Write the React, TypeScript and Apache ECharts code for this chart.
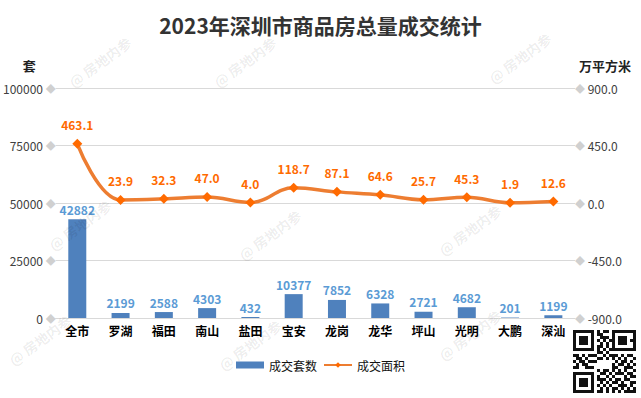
import React, { useEffect, useRef } from "react";
import * as echarts from "echarts";

const categories = ["全市", "罗湖", "福田", "南山", "盐田", "宝安", "龙岗", "龙华", "坪山", "光明", "大鹏", "深汕"];
const dealUnits = [42882, 2199, 2588, 4303, 432, 10377, 7852, 6328, 2721, 4682, 201, 1199];
const dealArea = [463.1, 23.9, 32.3, 47.0, 4.0, 118.7, 87.1, 64.6, 25.7, 45.3, 1.9, 12.6];
const watermarks = [
  [100, 62], [245, 62], [520, 58], [80, 225], [270, 235], [470, 230], [40, 340], [250, 345], [470, 335],
];

const FONT = "'Noto Sans CJK SC', 'Noto Sans', sans-serif";

export default function App() {
  const ref = useRef<HTMLDivElement>(null);
  useEffect(() => {
    if (!ref.current) return;
    const chart = echarts.init(ref.current, undefined, { renderer: "svg" });
    const qr: any[] = [];
    // simple QR-like decoration
    const qx = 573, qy = 330, cell = 3;
    const pattern = [
      "111111101011011111111",
      "100000101100010000001",
      "101110100111010111001",
      "101110101010110111011",
      "101110100101010111001",
      "100000101101010000001",
      "111111101010111111111",
      "000000001101000000000",
      "110101110010111010110",
      "011010001101010101001",
      "101101110000001011010",
      "010110000000010110101",
      "110011100000011001110",
      "000000001011010101001",
      "111111100110101110110",
      "100000101001010001011",
      "101110101110101101100",
      "101110100101011010011",
      "101110101010100111010",
      "100000100101011010101",
      "111111101101010101111",
    ];
    pattern.forEach((row, r) => {
      row.split("").forEach((c, k) => {
        if (c === "1")
          qr.push({ type: "rect", shape: { x: qx + k * cell, y: qy + r * cell, width: cell, height: cell }, style: { fill: "#111" }, silent: true });
      });
    });
    chart.setOption({
      animation: false,
      textStyle: { fontFamily: FONT },
      title: {
        text: "2023年深圳市商品房总量成交统计",
        left: "center",
        top: 9,
        textStyle: { fontSize: 21, fontWeight: "bold", color: "#333", fontFamily: FONT },
      },
      grid: { left: 54, right: 66, top: 88, bottom: 80 },
      legend: {
        bottom: 22,
        left: "center",
        itemWidth: 28,
        itemHeight: 7,
        itemGap: 6,
        textStyle: { fontSize: 12, color: "#111", fontFamily: FONT },
        data: [
          { name: "成交套数", icon: "rect" },
          { name: "成交面积" },
        ],
      },
      xAxis: {
        type: "category",
        data: categories,
        axisLine: { lineStyle: { color: "#d9d9d9" } },
        axisTick: { show: false },
        axisLabel: { color: "#000", fontSize: 12, fontWeight: "bold", margin: 6, fontFamily: FONT },
      },
      yAxis: [
        {
          type: "value",
          min: 0,
          max: 100000,
          interval: 25000,
          name: "套",
          nameLocation: "end",
          nameGap: 16,
          nameTextStyle: { color: "#222", fontSize: 13, fontWeight: "bold", align: "right", padding: [0, 20, 0, 0] },
          axisLine: { show: false },
          axisTick: { show: false },
          splitLine: { lineStyle: { color: "#d9d9d9" } },
          axisLabel: {
            color: "#404040",
            fontSize: 12,
            margin: 0,
            formatter: (v: number) => `${v} {d|◆}`,
            rich: { d: { color: "#d0d0d0", fontSize: 10 } },
          },
        },
        {
          type: "value",
          min: -900,
          max: 900,
          interval: 450,
          name: "万平方米",
          nameLocation: "end",
          nameGap: 16,
          nameTextStyle: { color: "#222", fontSize: 13, fontWeight: "bold", align: "left", padding: [0, 0, 0, 4] },
          axisLine: { show: false },
          axisTick: { show: false },
          splitLine: { show: false },
          axisLabel: {
            color: "#404040",
            fontSize: 12,
            margin: 0,
            formatter: (v: number) => `{d|◆} ${v.toFixed(1)}`,
            rich: { d: { color: "#d0d0d0", fontSize: 10 } },
          },
        },
      ],
      series: [
        {
          name: "成交套数",
          type: "bar",
          data: dealUnits,
          yAxisIndex: 0,
          barWidth: 18,
          itemStyle: { color: "#4f81bd" },
          label: {
            show: true,
            position: "top",
            distance: 4,
            color: "#5b9bd5",
            fontSize: 12,
            fontWeight: "bold",
            fontFamily: FONT,
          },
        },
        {
          name: "成交面积",
          type: "line",
          data: dealArea,
          yAxisIndex: 1,
          smooth: 0.4,
          symbol: "diamond",
          symbolSize: 10,
          lineStyle: { color: "#ed7d31", width: 3.5 },
          itemStyle: { color: "#ff6a00" },
          label: {
            show: true,
            position: "top",
            distance: 8,
            color: "#ff6a00",
            fontSize: 12,
            fontWeight: "bold",
            fontFamily: FONT,
            formatter: (p: any) => Number(p.value).toFixed(1),
          },
        },
      ],
      graphic: [
        ...watermarks.map(([x, y]) => ({
          type: "text",
          x,
          y,
          rotation: Math.PI / 5,
          silent: true,
          z: 100,
          style: {
            text: "@ 房地内参",
            fill: "rgba(0,0,0,0.08)",
            font: `bold 14px ${FONT}`,
            textAlign: "center",
            textVerticalAlign: "middle",
          },
        })),
        ...qr,
      ],
    });
    return () => chart.dispose();
  }, []);
  return (
    <div
      ref={ref}
      style={{ position: "absolute", left: 0, top: 0, width: 641, height: 398, background: "#fff" }}
    />
  );
}
